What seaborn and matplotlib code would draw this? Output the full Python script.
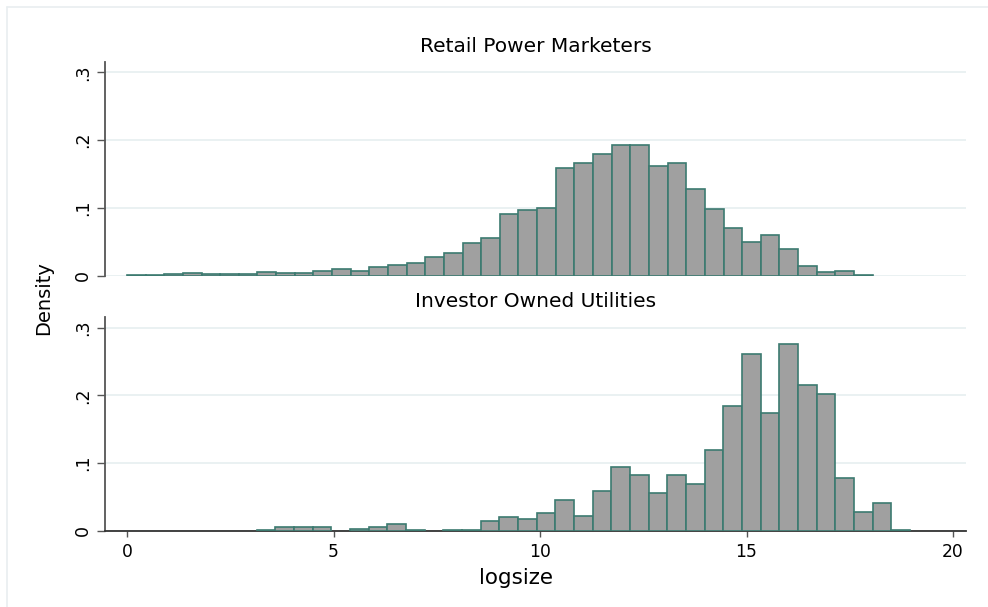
import numpy as np
import pandas as pd
import seaborn as sns
import matplotlib
matplotlib.use("Agg")
import matplotlib.pyplot as plt
from matplotlib.lines import Line2D

# ---------------- data (histogram densities) ----------------
panel_titles = ["Retail Power Marketers", "Investor Owned Utilities"]

rpm_start = 0.0
rpm_width = 0.4514
rpm_density = [0.001, 0.0005, 0.002, 0.0035, 0.002, 0.003, 0.003, 0.006, 0.004, 0.004,
               0.007, 0.0095, 0.007, 0.013, 0.016, 0.019, 0.027, 0.033, 0.048, 0.056,
               0.091, 0.097, 0.1005, 0.159, 0.166, 0.180, 0.1926, 0.1926, 0.162, 0.166,
               0.128, 0.099, 0.070, 0.049, 0.060, 0.039, 0.0144, 0.0054, 0.0074, 0.0005]

iou_start = 3.14
iou_width = 0.452
iou_density = [0.002, 0.0054, 0.0054, 0.0054, 0.0, 0.003, 0.0054, 0.011, 0.002, 0.0,
               0.0015, 0.0015, 0.0153, 0.0207, 0.0177, 0.026, 0.0463, 0.022, 0.059, 0.095,
               0.083, 0.0567, 0.083, 0.069, 0.120, 0.185, 0.261, 0.174, 0.276, 0.215,
               0.2015, 0.078, 0.0286, 0.041, 0.0015]

x_ticks = [0, 5, 10, 15, 20]
y_ticks = [0, 0.1, 0.2, 0.3]
y_ticklabels = ["0", ".1", ".2", ".3"]
x_title = "logsize"
y_title = "Density"

# ---------------- style ----------------
sns.set_theme(style="white")
plt.rcParams["font.family"] = ["DejaVu Sans"]

FILL = "#a0a0a0"
EDGE = "#3c7a70"
GRID = "#e6eff0"
AXC = "#555555"
TXT = "#000000"

W, H = 988, 607
fig = plt.figure(figsize=(W / 100, H / 100), dpi=100)
fig.patch.set_facecolor("white")

# light outer frame (top and left)
fig.add_artist(Line2D([7 / W, 1.0], [1 - 7 / H, 1 - 7 / H], color="#e9eef0", lw=1.2,
                      transform=fig.transFigure))
fig.add_artist(Line2D([7 / W, 7 / W], [0.0, 1 - 7 / H], color="#e9eef0", lw=1.2,
                      transform=fig.transFigure))


def px_axes(left, right, top, bottom):
    return fig.add_axes([left / W, 1 - bottom / H, (right - left) / W, (bottom - top) / H])


ax1 = px_axes(105, 966, 62, 276)
ax2 = px_axes(105, 966, 317, 531)

x0_px, x20_px = 127, 953
per_unit = (x20_px - x0_px) / 20.0
xmin = (105 - x0_px) / per_unit
xmax = (966 - x0_px) / per_unit


def draw(ax, start, width, dens):
    n = len(dens)
    edges = [float(start + width * i) for i in range(n + 1)]
    centers = [(edges[i] + edges[i + 1]) / 2 for i in range(n)]
    df = pd.DataFrame({"logsize": centers, "density": dens})
    sns.histplot(data=df, x="logsize", weights="density", bins=edges, stat="count",
                 ax=ax, color=FILL, edgecolor=EDGE, linewidth=1.2, alpha=1.0, zorder=3)
    for p in list(ax.patches):
        if p.get_height() <= 0:
            p.remove()


draw(ax1, rpm_start, rpm_width, rpm_density)
draw(ax2, iou_start, iou_width, iou_density)

ax1.set_ylim(-0.0005, 0.3152)
ax2.set_ylim(0, 0.3156)

for ax in (ax1, ax2):
    ax.set_xlim(xmin, xmax)
    ax.set_facecolor("white")
    ax.set_yticks(y_ticks)
    ax.set_yticklabels(y_ticklabels, rotation=90, va="center", fontsize=12.5, color=TXT)
    ax.grid(False)
    for y in y_ticks:
        ax.axhline(y, color=GRID, lw=1.2, zorder=0)
    ax.spines["top"].set_visible(False)
    ax.spines["right"].set_visible(False)
    ax.spines["left"].set_color(AXC)
    ax.spines["left"].set_linewidth(1.3)
    ax.tick_params(axis="y", which="both", left=True, length=5.5, width=1.0,
                   color=AXC, pad=4)
    ax.set_xlabel("")
    ax.set_ylabel("")

ax1.spines["bottom"].set_visible(False)
ax1.set_xticks([])

ax2.spines["bottom"].set_color("#333333")
ax2.spines["bottom"].set_linewidth(1.3)
ax2.set_xticks(x_ticks)
ax2.set_xticklabels([str(t) for t in x_ticks], fontsize=12.3, color=TXT)
ax2.tick_params(axis="x", which="both", bottom=True, length=4.5, width=1.0,
                color=AXC, pad=4)

# titles and axis titles
cx = (105 + 966) / 2 / W
fig.text(cx, 1 - 47 / H, panel_titles[0], ha="center", va="center", fontsize=14.5,
         color=TXT)
fig.text(cx, 1 - 302 / H, panel_titles[1], ha="center", va="center", fontsize=14.5,
         color=TXT)
fig.text(516 / W, 1 - 578 / H, x_title, ha="center", va="center", fontsize=15.5,
         color=TXT)
fig.text(44 / W, 1 - 298 / H, y_title, ha="center", va="center", rotation=90,
         fontsize=14, color=TXT)

fig.savefig("out.png", dpi=100, facecolor="white")
